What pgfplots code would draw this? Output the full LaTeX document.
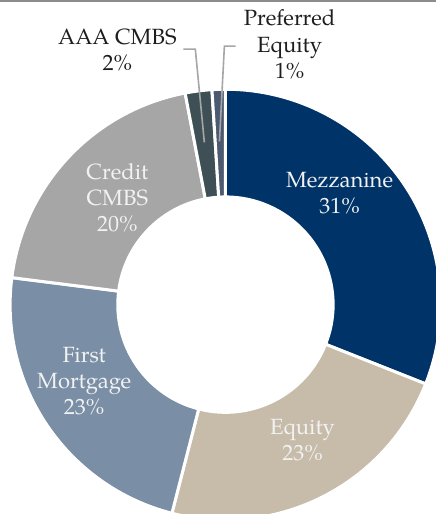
\documentclass[border=0pt]{standalone}
\usepackage{fontspec}
\setmainfont{texgyrepagella-regular.otf}
\usepackage{pgfplots}
\usepackage{pgfplotstable}
\pgfplotsset{compat=1.18}
\definecolor{slice0}{RGB}{0,51,104}
\definecolor{slice1}{RGB}{199,188,170}
\definecolor{slice2}{RGB}{122,142,165}
\definecolor{slice3}{RGB}{166,166,166}
\definecolor{slice4}{RGB}{62,80,85}
\definecolor{slice5}{RGB}{75,90,112}
\definecolor{leader}{RGB}{166,166,166}
\definecolor{topline}{RGB}{140,140,140}
\definecolor{intext}{RGB}{242,242,242}
\definecolor{outtext}{RGB}{30,30,30}
\pgfplotstableread{
name value
Mezzanine 31
Equity 23
FirstMortgage 23
CreditCMBS 20
AAACMBS 2
PreferredEquity 1
}\datatable
\begin{document}
\begin{tikzpicture}
\begin{axis}[
  scale only axis, width=435pt, height=514pt,
  xmin=-1.047, xmax=0.977, ymin=-0.972, ymax=1.419,
  hide axis, clip=true,
]
\pgfplotstablegetrowsof{\datatable}
\pgfmathtruncatemacro\N{\pgfplotsretval-1}
\def\cum{0}
\pgfplotsforeachungrouped \i in {0,...,\N}{%
  \pgfplotstablegetelem{\i}{value}\of\datatable
  \pgfmathsetmacro\aone{90-3.6*\cum}%
  \pgfmathsetmacro\atwo{90-3.6*(\cum+\pgfplotsretval)}%
  \pgfmathsetmacro\cum{\cum+\pgfplotsretval}%
  \edef\temp{\noexpand\filldraw[fill=slice\i, draw=white, line width=3pt, line join=round]
    (axis cs:{cos(\aone)},{sin(\aone)}) arc[start angle=\aone, end angle=\atwo, radius=1]
    -- (axis cs:{0.5*cos(\atwo)},{0.5*sin(\atwo)}) arc[start angle=\atwo, end angle=\aone, radius=0.5] -- cycle;}%
  \temp
}
\draw[topline, line width=2pt] ([yshift=-2pt]rel axis cs:0,1) -- ([yshift=-2pt]rel axis cs:1,1);
\draw[leader, line width=1.6pt] (axis cs:-0.195,1.186) -- (axis cs:-0.140,1.186) -- (axis cs:-0.098,0.753);
\draw[leader, line width=1.6pt] (axis cs:0.047,1.200) -- (axis cs:-0.005,1.200) -- (axis cs:-0.028,0.758);
\begin{scope}[every node/.style={align=center, font=\fontsize{22}{26}\selectfont, inner sep=0pt}]
\node[text=intext] at (axis cs:0.530,0.516) {Mezzanine\\31\%};
\node[text=intext] at (axis cs:0.358,-0.628) {Equity\\23\%};
\node[text=intext] at (axis cs:-0.656,-0.353) {First\\Mortgage\\23\%};
\node[text=intext] at (axis cs:-0.502,0.498) {Credit\\CMBS\\20\%};
\node[text=outtext] at (axis cs:-0.502,1.181) {AAA CMBS\\2\%};
\node[text=outtext] at (axis cs:0.298,1.209) {Preferred\\Equity\\1\%};
\end{scope}
\end{axis}
\end{tikzpicture}
\end{document}
